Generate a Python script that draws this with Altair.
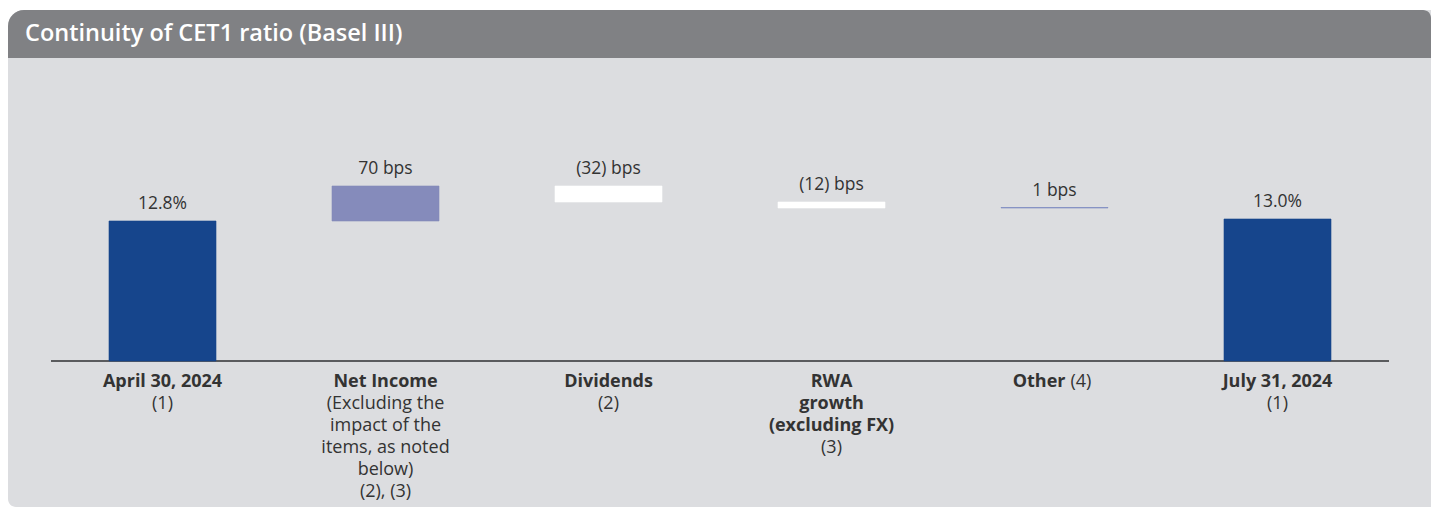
import altair as alt
import pandas as pd

# ---- data ----
categories = ["April 30, 2024", "Net Income", "Dividends", "RWA growth", "Other", "July 31, 2024"]
bar_start = [10.0, 12.80, 13.50, 13.18, 13.06, 10.0]
bar_end = [12.80, 13.50, 13.18, 13.06, 13.07, 12.84]
value_labels = ["12.8%", "70 bps", "(32) bps", "(12) bps", "1 bps", "13.0%"]
bar_colors = ["#16458c", "#858bbb", "#ffffff", "#ffffff", "#7b88c0", "#16458c"]

label_bold = ["April 30, 2024", "Net Income", "Dividends", "RWA\ngrowth\n(excluding FX)", "Other", "July 31, 2024"]
label_regular = ["(1)", "(Excluding the\nimpact of the\nitems, as noted\nbelow)\n(2), (3)", "(2)", "(3)", "(4)", "(1)"]
label_inline = [False, False, False, False, True, False]

title_text = "Continuity of CET1 ratio (Basel III)"

# ---- layout ----
W, H = 1423, 499
FONT = "Open Sans"
TEXT = "#333333"

xscale = alt.Scale(domain=[-0.69283, 5.68834], nice=False, zero=False, padding=0)
yscale = alt.Scale(domain=[7.08, 17.06], nice=False, zero=False, padding=0)

bars_df = pd.DataFrame({
    "idx": list(range(len(categories))),
    "cat": categories,
    "start": bar_start,
    "end": bar_end,
    "label": value_labels,
    "color": bar_colors,
})
bars_df["top"] = bars_df[["start", "end"]].max(axis=1)

rows = []
for i, (b, r, inl) in enumerate(zip(label_bold, label_regular, label_inline)):
    blines = b.split("\n")
    for j, t in enumerate(blines):
        rows.append({"idx": i, "line": j, "text": t, "weight": "bold", "inl": "y" if inl else "n"})
    rlines = r.split("\n")
    start = 0 if inl else len(blines)
    for j, t in enumerate(rlines):
        rows.append({"idx": i, "line": start + j, "text": t, "weight": "normal", "inl": "y" if inl else "n"})
lab_df = pd.DataFrame(rows)

# panel decoration (pixel boxes)
panel_df = pd.DataFrame({
    "part": ["body", "header"],
    "px0": [0, 0], "px1": [W, W],
    "py0": [2, 2], "py1": [H, 50],
    "fill": ["#dcdde0", "#808184"],
})

body = alt.Chart(panel_df).transform_filter(alt.datum.part == "body").mark_rect(
    cornerRadiusTopLeft=16, cornerRadiusBottomLeft=8
).encode(
    x=alt.X("px0:Q", scale=None), x2="px1:Q",
    y=alt.Y("py0:Q", scale=None), y2="py1:Q",
    color=alt.Color("fill:N", scale=None),
)
header = alt.Chart(panel_df).transform_filter(alt.datum.part == "header").mark_rect(
    cornerRadiusTopLeft=16, cornerRadiusTopRight=8
).encode(
    x=alt.X("px0:Q", scale=None), x2="px1:Q",
    y=alt.Y("py0:Q", scale=None), y2="py1:Q",
    color=alt.Color("fill:N", scale=None),
)

title_df = pd.DataFrame({"t": [title_text], "tx": [17], "ty": [33]})
title = alt.Chart(title_df).mark_text(
    font=FONT, fontSize=23.5, fontWeight=600, color="white", align="left", baseline="alphabetic"
).encode(x=alt.X("tx:Q", scale=None), y=alt.Y("ty:Q", scale=None), text="t:N")

rule_df = pd.DataFrame({"a": [-0.5], "b": [5.5], "v": [10.0]})
baseline_rule = alt.Chart(rule_df).mark_rule(color="#5a5b5e", strokeWidth=2).encode(
    x=alt.X("a:Q", scale=xscale, axis=None), x2="b:Q",
    y=alt.Y("v:Q", scale=yscale, axis=None),
)

bars = alt.Chart(bars_df).mark_bar(size=107, strokeWidth=0.6).encode(
    x=alt.X("idx:Q", scale=xscale, axis=None),
    y=alt.Y("start:Q", scale=yscale, axis=None),
    y2="end:Q",
    color=alt.Color("color:N", scale=None),
    stroke=alt.Stroke("color:N", scale=None),
)

vlabels = alt.Chart(bars_df).mark_text(
    font=FONT, fontSize=17.5, color=TEXT, baseline="alphabetic", align="center", dy=-12
).encode(
    x=alt.X("idx:Q", scale=xscale, axis=None),
    y=alt.Y("top:Q", scale=yscale, axis=None),
    text="label:N",
)

def lab_layer(weight, inl, **kw):
    return alt.Chart(lab_df).transform_filter(
        (alt.datum.weight == weight) & (alt.datum.inl == inl)
    ).transform_calculate(
        ypix="379 + 22 * datum.line"
    ).mark_text(
        font=FONT, fontSize=18, color=TEXT, baseline="alphabetic", fontWeight=weight, **kw
    ).encode(
        x=alt.X("idx:Q", scale=xscale, axis=None),
        y=alt.Y("ypix:Q", scale=None),
        text="text:N",
    )

lab_bold = lab_layer("bold", "n", align="center")
lab_reg = lab_layer("normal", "n", align="center")
lab_bold_in = lab_layer("bold", "y", align="right", dx=11)
lab_reg_in = lab_layer("normal", "y", align="left", dx=16)

chart = alt.layer(
    body, header, title, baseline_rule, bars, vlabels,
    lab_bold, lab_reg, lab_bold_in, lab_reg_in
).properties(
    width=W, height=H, padding=0, autosize=alt.AutoSizeParams(type="none")
).configure(background="white").configure_view(stroke=None)

chart.save("out.html", embed_options={"renderer": "svg", "actions": False})
